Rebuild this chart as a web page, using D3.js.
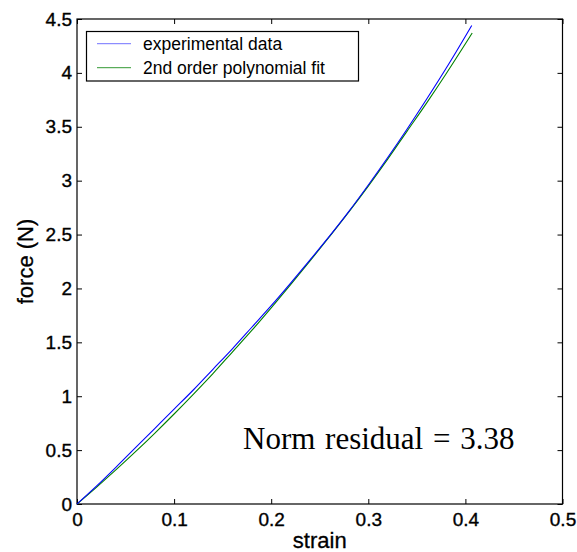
<!DOCTYPE html>
<html>
<head>
<meta charset="utf-8">
<script src="https://cdn.jsdelivr.net/npm/d3@7"></script>
<style>
  html, body { margin: 0; padding: 0; background: #fff; }
  svg { display: block; }
</style>
</head>
<body>
<svg id="chart" width="577" height="552"></svg>
<script>
// Measured force vs. strain
const expStrain = [0, 0.02, 0.04, 0.06, 0.08, 0.10, 0.12, 0.14, 0.16, 0.18, 0.20, 0.22,
                   0.24, 0.26, 0.28, 0.30, 0.32, 0.34, 0.36, 0.38, 0.40, 0.4065];
const expForce  = [0, 0.165, 0.34, 0.52, 0.70, 0.88, 1.06, 1.25, 1.44, 1.64, 1.84, 2.05,
                   2.265, 2.485, 2.715, 2.96, 3.215, 3.48, 3.755, 4.04, 4.34, 4.44];

// Second-order polynomial fit of the same data
const fitStrain = [0, 0.02, 0.04, 0.06, 0.08, 0.10, 0.12, 0.14, 0.16, 0.18, 0.20, 0.22,
                   0.24, 0.26, 0.28, 0.30, 0.32, 0.34, 0.36, 0.38, 0.40, 0.407];
const fitForce  = [0, 0.155, 0.316, 0.483, 0.656, 0.835, 1.02, 1.21, 1.41, 1.61, 1.82, 2.035,
                   2.255, 2.48, 2.71, 2.95, 3.2, 3.46, 3.72, 3.99, 4.27, 4.37];

const xTicks = [0, 0.1, 0.2, 0.3, 0.4, 0.5];
const yTicks = [0, 0.5, 1, 1.5, 2, 2.5, 3, 3.5, 4, 4.5];

const seriesNames  = ["experimental data", "2nd order polynomial fit"];
const seriesColors = ["#0000ff", "#008000"];
const residualNote = "Norm residual = 3.38";

const sans  = "Arial, 'Liberation Sans', Helvetica, sans-serif";
const serif = "'Times New Roman', 'Liberation Serif', serif";

const svg = d3.select("#chart");
const plot = { left: 77, right: 562.5, top: 19, bottom: 504 };

const x = d3.scaleLinear().domain([0, 0.5]).range([plot.left, plot.right]);
const y = d3.scaleLinear().domain([0, 4.5]).range([plot.bottom, plot.top]);

const fmt = d => String(d);
const tickLen = 5;

const styleTickText = g => g.selectAll("text")
  .style("font-family", sans).style("font-size", "19px")
  .attr("fill", "#000").attr("stroke", "#000").attr("stroke-width", 0.35);

// Axes with inward ticks on all four sides
svg.append("g")
  .attr("transform", `translate(0,${plot.bottom})`)
  .call(d3.axisBottom(x).tickValues(xTicks).tickFormat(fmt).tickSizeInner(-tickLen).tickSizeOuter(0).tickPadding(9))
  .call(g => g.select(".domain").remove())
  .call(styleTickText);

svg.append("g")
  .attr("transform", `translate(${plot.left},0)`)
  .call(d3.axisLeft(y).tickValues(yTicks).tickFormat(fmt).tickSizeInner(-tickLen).tickSizeOuter(0).tickPadding(5))
  .call(g => g.select(".domain").remove())
  .call(styleTickText);

svg.append("g")
  .attr("transform", `translate(0,${plot.top})`)
  .call(d3.axisTop(x).tickValues(xTicks).tickFormat("").tickSizeInner(-tickLen).tickSizeOuter(0))
  .call(g => g.select(".domain").remove());

svg.append("g")
  .attr("transform", `translate(${plot.right},0)`)
  .call(d3.axisRight(y).tickValues(yTicks).tickFormat("").tickSizeInner(-tickLen).tickSizeOuter(0))
  .call(g => g.select(".domain").remove());

svg.selectAll(".tick line").attr("stroke", "#000");

svg.append("rect")
  .attr("x", plot.left).attr("y", plot.top)
  .attr("width", plot.right - plot.left).attr("height", plot.bottom - plot.top)
  .attr("fill", "none").attr("stroke", "#000").attr("stroke-width", 1.2);

// Curves
const line = d3.line().x(d => x(d[0])).y(d => y(d[1])).curve(d3.curveMonotoneX);
const expData = expStrain.map((s, i) => [s, expForce[i]]);
const fitData = fitStrain.map((s, i) => [s, fitForce[i]]);

svg.append("path").datum(fitData)
  .attr("d", line).attr("fill", "none").attr("stroke", seriesColors[1]).attr("stroke-width", 1.1);
svg.append("path").datum(expData)
  .attr("d", line).attr("fill", "none").attr("stroke", seriesColors[0]).attr("stroke-width", 1.1);

// Axis labels
svg.append("text")
  .attr("x", (plot.left + plot.right) / 2).attr("y", 548)
  .attr("text-anchor", "middle")
  .style("font-family", sans).style("font-size", "22px")
  .attr("stroke", "#000").attr("stroke-width", 0.3)
  .text("strain");

svg.append("text")
  .attr("transform", `translate(33,${(plot.top + plot.bottom) / 2}) rotate(-90)`)
  .attr("text-anchor", "middle")
  .style("font-family", sans).style("font-size", "22px")
  .attr("stroke", "#000").attr("stroke-width", 0.3)
  .text("force (N)");

// Legend
const legend = svg.append("g");
legend.append("rect")
  .attr("x", 86.5).attr("y", 31.5).attr("width", 272).attr("height", 49.5)
  .attr("fill", "#fff").attr("stroke", "#000").attr("stroke-width", 1.2);
seriesNames.forEach((name, i) => {
  const ly = 43.7 + i * 24;
  legend.append("line")
    .attr("x1", 97).attr("x2", 131).attr("y1", ly).attr("y2", ly)
    .attr("stroke", seriesColors[i]).attr("stroke-width", 1).attr("opacity", i === 0 ? 0.55 : 0.8);
  legend.append("text")
    .attr("x", 143).attr("y", ly + 6)
    .style("font-family", sans).style("font-size", "17.5px")
    .text(name);
});

// Fit quality annotation
svg.append("text")
  .attr("x", 243).attr("y", 449)
  .style("font-family", serif).style("font-size", "31px")
  .attr("word-spacing", 2)
  .text(residualNote);
</script>
</body>
</html>
